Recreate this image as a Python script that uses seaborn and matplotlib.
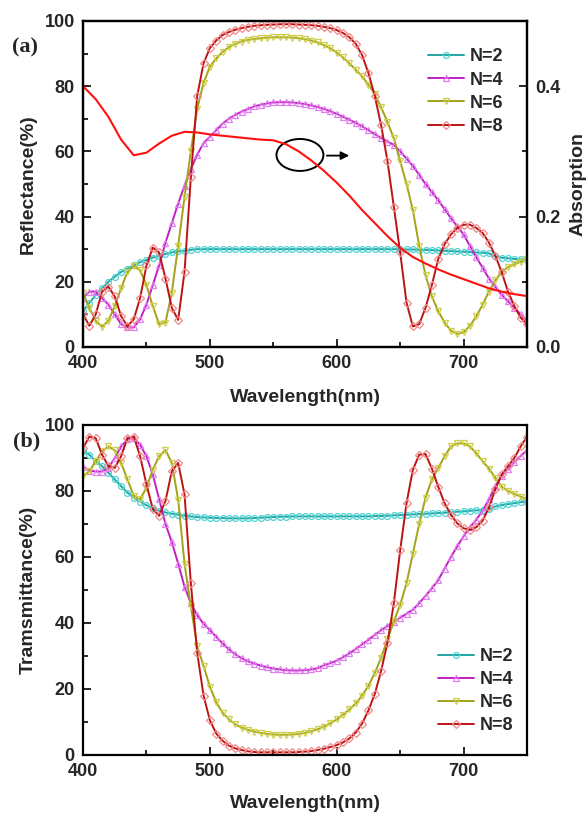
import numpy as np
import pandas as pd
import matplotlib
matplotlib.use("Agg")
import matplotlib.pyplot as plt
import seaborn as sns
from matplotlib.patches import Ellipse
from matplotlib.ticker import MultipleLocator, FormatStrFormatter

# ---------------- data ----------------
wavelength = np.arange(400, 751, 5)  # nm, 71 points

refl_N2 = [11, 13.5, 16, 18, 20, 21.5, 23, 24, 25, 26,
           26.7, 27.4, 28, 28.5, 29, 29.3, 29.5, 29.8, 30, 30,
           30, 30, 30, 30, 30, 30, 30, 30, 30, 30,
           30, 30, 30, 30, 30, 30, 30, 30, 30, 30,
           30, 30, 30, 30, 30, 30, 30, 30, 30, 30,
           30, 29.9, 29.9, 29.8, 29.8, 29.7, 29.6, 29.5, 29.4, 29.3,
           29.2, 29.1, 29, 28.9, 28.7, 27.8, 27.4, 27.2, 27, 26.9,
           26.8]
refl_N4 = [15, 17, 17, 15, 13, 10, 7, 6, 6, 8.5,
           13, 19, 25, 32, 38, 44, 49.5, 54.5, 59, 62.5,
           64.5, 66.5, 68.5, 70, 71.2, 72.2, 73, 73.8, 74.3, 74.7,
           75, 75.1, 75.1, 75, 74.8, 74.5, 74.1, 73.6, 73, 72.3,
           71.5, 70.6, 69.7, 68.7, 67.7, 66.5, 65.3, 64.1, 63, 62,
           60, 57.8, 55.5, 52.8, 50, 47.5, 45, 42.3, 39.5, 37,
           34.5, 31, 27.5, 24.3, 21, 18.5, 16, 14, 12, 10,
           8]
refl_N6 = [16.5, 12, 8, 6.2, 8, 12.5, 18, 23, 24.8, 23.5,
           19, 12.5, 7, 7.5, 16.7, 31, 46, 60, 73, 81,
           86, 88.5, 90.5, 92, 93, 93.7, 94.2, 94.5, 94.7, 94.9,
           95, 95, 95, 94.9, 94.7, 94.4, 94, 93.4, 92.6, 91.6,
           90.3, 88.8, 87, 85, 83, 80.5, 77.5, 73.5, 69, 64,
           57, 50, 42, 31, 22, 15.5, 11, 7.5, 5, 4,
           4.5, 6.5, 9.4, 13, 17, 20.5, 23, 24.5, 25.3, 26.2,
           27]
refl_N8 = [10, 6.5, 10, 17, 18.5, 15.5, 9.5, 6.3, 8.5, 15,
           25, 30.5, 29, 21, 12, 8.3, 23, 52, 77, 87,
           91.7, 94, 95.7, 96.6, 97.3, 97.8, 98.2, 98.5, 98.7, 98.8,
           98.9, 99, 99, 99, 98.9, 98.8, 98.7, 98.5, 98.2, 97.8,
           97.2, 96.3, 95, 93, 89.5, 84, 77, 68, 57, 43,
           29, 13.6, 6.3, 7, 12, 19, 27, 31.5, 34.5, 36.5,
           37.5, 37.5, 36.5, 35, 32, 28, 23, 17, 12.5, 9,
           7]

abs_wavelength = np.arange(400, 751, 10)
absorption = [0.400, 0.380, 0.353, 0.318, 0.294, 0.298, 0.312, 0.324, 0.330, 0.329,
              0.326, 0.324, 0.322, 0.320, 0.318, 0.317, 0.311, 0.300, 0.286, 0.270,
              0.252, 0.232, 0.210, 0.190, 0.170, 0.152, 0.138, 0.128, 0.119, 0.111,
              0.104, 0.097, 0.090, 0.085, 0.081, 0.078]

trans_N2 = [92, 91, 89, 87.5, 85.5, 83.5, 81.5, 79.5, 78, 76.8,
            75.7, 74.8, 74, 73.5, 73.1, 72.8, 72.5, 72.3, 72.1, 72,
            71.9, 71.8, 71.8, 71.7, 71.7, 71.7, 71.7, 71.8, 71.9, 72,
            72.1, 72.2, 72.2, 72.3, 72.3, 72.3, 72.3, 72.3, 72.3, 72.3,
            72.3, 72.3, 72.3, 72.3, 72.3, 72.3, 72.4, 72.4, 72.5, 72.6,
            72.7, 72.8, 72.9, 73, 73.1, 73.2, 73.3, 73.4, 73.5, 73.7,
            73.8, 74, 74.1, 74.3, 74.5, 75.3, 75.7, 76, 76.3, 76.6,
            76.8]
trans_N4 = [87.4, 86.2, 85.9, 85.9, 87, 90, 93.5, 95.6, 96, 94,
            90.5, 85, 77.5, 70, 64.5, 58, 51, 46, 42.3, 39.8,
            37.8, 35.8, 33.8, 32, 30.5, 29.3, 28.4, 27.7, 27.1, 26.6,
            26.2, 25.9, 25.7, 25.6, 25.6, 25.7, 25.9, 26.3, 27.2, 27.8,
            28.6, 29.6, 30.8, 32.1, 33.5, 34.9, 36.4, 37.8, 39.1, 40.4,
            41.6, 42.8, 44, 46, 48.2, 50.5, 53, 56.5, 60, 63.2,
            66.3, 69, 71.3, 74, 77.5, 81.5, 84.5, 86.8, 88.7, 90.6,
            92.4]
trans_N6 = [84.5, 86, 89, 92, 93.5, 92.3, 88.5, 83.5, 78.5, 77.5,
            81, 86.5, 90.5, 92.4, 88.5, 77.3, 58, 45, 33, 27,
            20.7, 16, 12.8, 10.8, 9.3, 8.3, 7.6, 7.1, 6.7, 6.4,
            6.2, 6.1, 6.1, 6.2, 6.4, 6.7, 7.2, 7.8, 8.6, 9.6,
            10.8, 12.2, 13.8, 15.6, 18, 21, 24.8, 29.5, 35, 40.5,
            45.5, 52, 61, 70, 78, 83.5, 87, 90.5, 93.5, 94.4,
            94.4, 93.5, 91.4, 89, 86.8, 84, 81.3, 80, 79.1, 78.3,
            77.3]
trans_N8 = [93, 96.5, 96, 91, 87.5, 87, 90.5, 96, 96.5, 90.5,
            82, 74.5, 72.5, 77, 86, 88.5, 79, 52, 31, 18,
            10.5, 6.5, 4.3, 2.8, 2, 1.5, 1.1, 0.9, 0.8, 0.8,
            0.8, 0.8, 0.8, 0.8, 0.9, 1, 1.2, 1.5, 1.9, 2.4,
            3, 3.8, 5, 6.8, 9.5, 13.5, 18.5, 25.5, 34, 46,
            62, 76.3, 86.4, 91, 91.2, 86.8, 81.3, 76.3, 72.8, 70.2,
            68.7, 68.2, 69, 71, 75, 80.5, 85, 87.5, 90, 93.5,
            96.5]

labels = ["N=2", "N=4", "N=6", "N=8"]
xticks = [400, 500, 600, 700]

# ---------------- style ----------------
sns.set_style("ticks")
plt.rcParams["font.family"] = ["Liberation Sans", "DejaVu Sans"]
plt.rcParams["font.weight"] = "bold"
plt.rcParams["axes.labelweight"] = "bold"

line_colors = ["#23a5a5", "#c21fc2", "#a3a31a", "#bb1414"]
marker_colors = ["#4fd2d2", "#e07ef0", "#cfcf4a", "#f08a8a"]
markers = ["o", "^", "v", "D"]
msizes = [4.2, 4.8, 4.8, 4.0]

fig = plt.figure(figsize=(5.88, 8.16), dpi=100)
ax_top = fig.add_axes([0.1412, 0.5748, 0.7551, 0.3995])
ax_bot = fig.add_axes([0.1412, 0.0748, 0.7551, 0.4044])

TICK_FS = 13
LABEL_FS = 14


def draw_series(ax, series):
    for vals, lab, lc, mc, mk, ms in zip(series, labels, line_colors,
                                         marker_colors, markers, msizes):
        sns.lineplot(x=wavelength, y=vals, ax=ax, color=lc, lw=1.4,
                     marker=mk, ms=ms, mfc="none", mec=mc, mew=0.9,
                     label=lab, estimator=None, sort=False)


def style_axis(ax):
    ax.set_xlim(400, 750)
    ax.set_ylim(0, 100)
    ax.set_xticks(xticks)
    ax.xaxis.set_minor_locator(MultipleLocator(50))
    ax.yaxis.set_major_locator(MultipleLocator(20))
    ax.yaxis.set_minor_locator(MultipleLocator(10))
    ax.tick_params(which="both", direction="in", top=False, right=False,
                   width=1.4, labelsize=TICK_FS)
    ax.tick_params(which="major", length=6, pad=6)
    ax.tick_params(which="minor", length=3.5)
    for sp in ax.spines.values():
        sp.set_visible(True)
        sp.set_linewidth(1.6)
        sp.set_color("black")


# top panel: reflectance + absorption
draw_series(ax_top, [refl_N2, refl_N4, refl_N6, refl_N8])
style_axis(ax_top)
ax_top.set_xlabel("Wavelength(nm)", fontsize=LABEL_FS, fontweight="bold")
ax_top.set_ylabel("Reflectance(%)", fontsize=LABEL_FS, fontweight="bold")
ax_top.xaxis.set_label_coords(0.5, -0.13)
ax_top.yaxis.set_label_coords(-0.105, 0.5)
ax_top.legend(loc="upper left", bbox_to_anchor=(0.761, 0.938), frameon=False,
              prop=dict(weight="bold", size=13), handlelength=2.0,
              handletextpad=0.3, labelspacing=0.34, borderaxespad=0)

ax_abs = ax_top.twinx()
sns.lineplot(x=abs_wavelength, y=absorption, ax=ax_abs, color="#ff1010",
             lw=1.5, estimator=None, sort=False)
ax_abs.set_ylim(0, 0.5)
ax_abs.set_yticks([0.0, 0.2, 0.4])
ax_abs.yaxis.set_minor_locator(MultipleLocator(0.1))
ax_abs.yaxis.set_major_formatter(FormatStrFormatter("%.1f"))
ax_abs.tick_params(which="both", direction="in", width=1.4, labelsize=TICK_FS)
ax_abs.tick_params(which="major", length=6, pad=6)
ax_abs.tick_params(which="minor", length=3.5)
ax_abs.set_ylabel("Absorption", fontsize=LABEL_FS, fontweight="bold")
ax_abs.yaxis.set_label_coords(1.095, 0.5)
for sp in ax_abs.spines.values():
    sp.set_linewidth(1.6)
    sp.set_color("black")

ax_top.add_patch(Ellipse((571, 58.9), 37, 9.8, fill=False, ec="black", lw=1.4, zorder=5))
ax_top.annotate("", xy=(612, 58.7), xytext=(590, 58.7),
                arrowprops=dict(arrowstyle="-|>", color="black", lw=1.3,
                                mutation_scale=12), zorder=5)

# bottom panel: transmittance
draw_series(ax_bot, [trans_N2, trans_N4, trans_N6, trans_N8])
style_axis(ax_bot)
ax_bot.set_xlabel("Wavelength(nm)", fontsize=LABEL_FS, fontweight="bold")
ax_bot.set_ylabel("Tramsmittance(%)", fontsize=LABEL_FS, fontweight="bold")
ax_bot.xaxis.set_label_coords(0.5, -0.12)
ax_bot.yaxis.set_label_coords(-0.105, 0.5)
ax_bot.legend(loc="upper left", bbox_to_anchor=(0.784, 0.346), frameon=False,
              prop=dict(weight="bold", size=13), handlelength=2.0,
              handletextpad=0.3, labelspacing=0.34, borderaxespad=0)

fig.text(0.043, 0.942, "(a)", family="Liberation Serif", weight="bold",
         fontsize=16, ha="center", va="center")
fig.text(0.046, 0.459, "(b)", family="Liberation Serif", weight="bold",
         fontsize=16, ha="center", va="center")

fig.savefig("out.png", dpi=100)
